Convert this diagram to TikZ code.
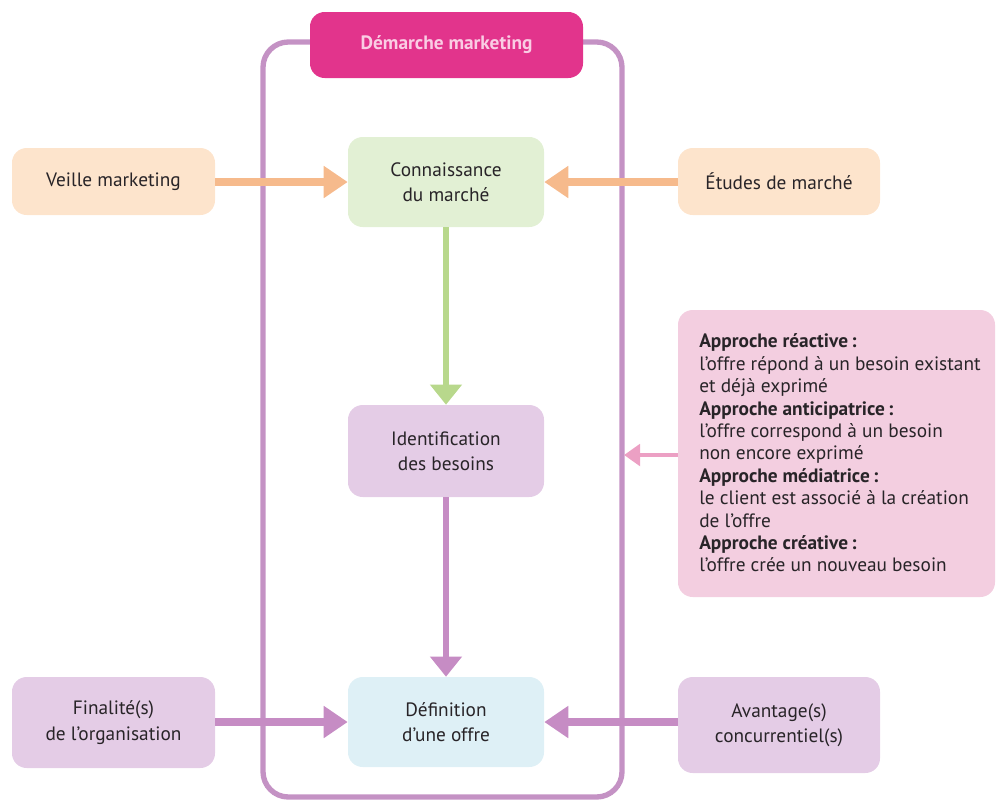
\documentclass[tikz,border=0pt]{standalone}
\usepackage{fontspec}
\setmainfont{PT Sans}
\usetikzlibrary{arrows.meta}
\definecolor{framec}{RGB}{196,146,196}
\definecolor{titlec}{RGB}{226,52,140}
\definecolor{titletxt}{RGB}{250,205,228}
\definecolor{peach}{RGB}{253,228,204}
\definecolor{orangear}{RGB}{246,186,140}
\definecolor{greenbox}{RGB}{226,240,212}
\definecolor{greenar}{RGB}{184,216,140}
\definecolor{purplebox}{RGB}{228,204,230}
\definecolor{purplear}{RGB}{198,140,196}
\definecolor{bluebox}{RGB}{222,240,246}
\definecolor{pinkbox}{RGB}{243,206,224}
\definecolor{pinkar}{RGB}{236,160,196}
\definecolor{txt}{RGB}{40,36,40}
\begin{document}
\begin{tikzpicture}[x=0.75pt,y=-0.75pt,
  box/.style={rounded corners=11pt, align=center, text=txt, inner sep=0pt,
    font=\fontsize{14.5}{19}\selectfont},
  harrow/.style={line width=5.5pt, -{Triangle[width=23pt,length=18pt]}},
  varrow/.style={line width=4.5pt, -{Triangle[width=23pt,length=15pt]}}]
\useasboundingbox (0,0) rectangle (1000,801);
% frame
\draw[framec, line width=4pt, rounded corners=19pt] (263,42) rectangle (622,797);
% title
\node[box, fill=titlec, text=titletxt, minimum width=273*0.75pt, minimum height=66*0.75pt,
  font=\bfseries\fontsize{14.5}{17}\selectfont] (title) at (446.5,45) {Démarche marketing};
% boxes
\node[box, fill=peach, minimum width=203*0.75pt, minimum height=67*0.75pt] (veille) at (113.5,181.5) {Veille marketing};
\node[box, fill=greenbox, minimum width=196*0.75pt, minimum height=90*0.75pt] (conn) at (446,182) {Connaissance\\du marché};
\node[box, fill=peach, minimum width=202*0.75pt, minimum height=67*0.75pt] (etudes) at (779,181.5) {Études de marché};
\node[box, fill=purplebox, minimum width=196*0.75pt, minimum height=92*0.75pt] (ident) at (446,451) {Identification\\des besoins};
\node[box, fill=bluebox, minimum width=196*0.75pt, minimum height=90*0.75pt] (defn) at (446,722) {Définition\\d’une offre};
\node[box, fill=purplebox, minimum width=203*0.75pt, minimum height=91*0.75pt] (final) at (113.5,722.5) {Finalité(s)\\de l’organisation};
\node[box, fill=purplebox, minimum width=202*0.75pt, minimum height=96*0.75pt] (avant) at (779,725) {Avantage(s)\\concurrentiel(s)};
\node[box, fill=pinkbox, minimum width=317*0.75pt, minimum height=287*0.75pt] (appr) at (836.5,453.5) {};
\node[align=left, text=txt, anchor=west, inner sep=0pt, font=\fontsize{14.5}{16.8}\selectfont] (apprtxt) at (699,453)
{\textbf{Approche réactive\,:}\\
l’offre répond à un besoin existant\\
et déjà exprimé\\
\textbf{Approche anticipatrice\,:}\\
l’offre correspond à un besoin\\
non encore exprimé\\
\textbf{Approche médiatrice\,:}\\
le client est associé à la création\\
de l’offre\\
\textbf{Approche créative\,:}\\
l’offre crée un nouveau besoin};
\coordinate (frameR) at (624,455);
% arrows
\draw[harrow, orangear] (veille.east |- conn) -- (conn.west);
\draw[harrow, orangear] (etudes.west |- conn) -- (conn.east);
\draw[varrow, greenar] (conn.south) -- (ident.north);
\draw[varrow, purplear] (ident.south) -- (defn.north);
\draw[harrow, purplear] (final.east |- defn) -- (defn.west);
\draw[harrow, purplear] (avant.west |- defn) -- (defn.east);
\draw[pinkar, line width=3.5pt, -{Triangle[width=16pt,length=12pt]}] (appr.west |- frameR) -- (frameR);
\end{tikzpicture}
\end{document}
